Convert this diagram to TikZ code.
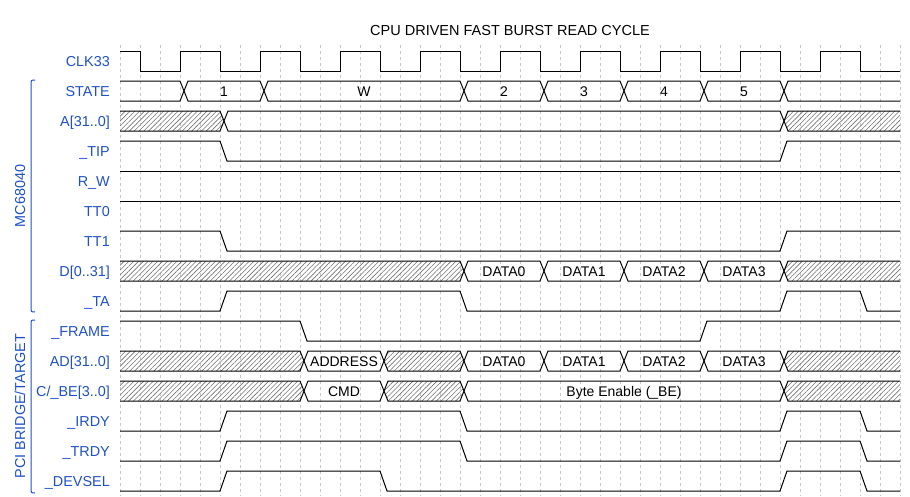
\documentclass[tikz,border=0pt]{standalone}
\usepackage{fontspec}
\setmainfont{Liberation Sans}
\usetikzlibrary{patterns.meta}
\definecolor{lblue}{HTML}{1F50C8}
\newcommand\bfirst[5]{%
  \path[#3] (120,#1-10) -- (#2,#1-10) -- (#2+4,#1) -- (#2,#1+10) -- (120,#1+10) -- cycle;
  \draw[sig] (120,#1-10) -- (#2,#1-10) -- (#2+4,#1) -- (#2,#1+10) -- (120,#1+10);
  \node[dtxt] (#5) at ({(120+#2)/2+2},#1+5) {#4};}
\newcommand\bmid[6]{%
  \path[#4] (#2+4,#1) -- (#2+8,#1-10) -- (#3,#1-10) -- (#3+4,#1) -- (#3,#1+10) -- (#2+8,#1+10) -- cycle;
  \draw[sig] (#2+4,#1) -- (#2+8,#1-10) -- (#3,#1-10) -- (#3+4,#1) -- (#3,#1+10) -- (#2+8,#1+10) -- cycle;
  \node[dtxt] (#6) at ({(#2+#3)/2+4},#1+5) {#5};}
\newcommand\blast[3]{%
  \path[#3] (900,#1-10) -- (#2+8,#1-10) -- (#2+4,#1) -- (#2+8,#1+10) -- (900,#1+10) -- cycle;
  \draw[sig] (900,#1-10) -- (#2+8,#1-10) -- (#2+4,#1) -- (#2+8,#1+10) -- (900,#1+10);}
\begin{document}
\begin{tikzpicture}[x=1pt,y=-1pt,
  sig/.style={line width=1pt, black, line join=miter},
  gridl/.style={line width=0.6pt, draw=black!22, dash pattern=on 3pt off 3pt},
  hatch/.style={pattern={Lines[angle=45,distance=3.4pt,line width=0.6pt]}, pattern color=black!55},
  plain/.style={},
  lbl/.style={text=lblue, font=\fontsize{14.4}{16}\selectfont, anchor=base east, inner sep=0pt},
  dtxt/.style={font=\fontsize{14}{16}\selectfont, anchor=base, inner sep=0pt},
  grp/.style={text=lblue, font=\fontsize{14.4}{16}\selectfont, anchor=base, inner sep=0pt, rotate=90},
  brace/.style={draw=lblue, line width=1pt},
  ]
\useasboundingbox (0,0) rectangle (910,496);
% grid
\foreach \x in {120,140,...,900} \draw[gridl] (\x,45) -- (\x,496);
% title
\node[font=\fontsize{14.5}{16}\selectfont, anchor=base, inner sep=0pt] (title) at (510,35) {CPU DRIVEN FAST BURST READ CYCLE};
% labels
\node[lbl] (lclk) at (110,66.5) {CLK33};
\node[lbl] (lstate) at (110,96.5) {STATE};
\node[lbl] (la) at (110,126.5) {A[31..0]};
\node[lbl] (ltip) at (110,156.5) {\_TIP};
\node[lbl] (lrw) at (110,186.5) {R\_W};
\node[lbl] (ltt0) at (110,216.5) {TT0};
\node[lbl] (ltt1) at (110,246.5) {TT1};
\node[lbl] (ld) at (110,276.5) {D[0..31]};
\node[lbl] (lta) at (110,306.5) {\_TA};
\node[lbl] (lframe) at (110,336.5) {\_FRAME};
\node[lbl] (lad) at (110,366.5) {AD[31..0]};
\node[lbl] (lcbe) at (110,396.5) {C/\_BE[3..0]};
\node[lbl] (lirdy) at (110,426.5) {\_IRDY};
\node[lbl] (ltrdy) at (110,456.5) {\_TRDY};
\node[lbl] (ldevsel) at (110,486.5) {\_DEVSEL};
% group braces
\draw[brace] (35,80) .. controls (31,80) .. (31,85) -- (31,307) .. controls (31,312) .. (35,312);
\node[grp] (gmc) at (25,196) {MC68040};
\draw[brace] (35,320) .. controls (31,320) .. (31,325) -- (31,488) .. controls (31,493) .. (35,493);
\node[grp] (gpci) at (25,406) {PCI BRIDGE/TARGET};
% CLK33
\draw[sig] (120,51) -- (140,51)
  \foreach \k in {0,...,8} { -- ({140+80*\k},71) -- ({180+80*\k},71) -- ({180+80*\k},51) -- ({220+80*\k},51) -- ({220+80*\k},71)}
  -- (900,71);
% STATE
\bfirst{91}{180}{plain}{}{s0}
\bmid{91}{180}{260}{plain}{1}{s1}
\bmid{91}{260}{460}{plain}{W}{sw}
\bmid{91}{460}{540}{plain}{2}{s2}
\bmid{91}{540}{620}{plain}{3}{s3}
\bmid{91}{620}{700}{plain}{4}{s4}
\bmid{91}{700}{780}{plain}{5}{s5}
\blast{91}{780}{plain}
% A
\bfirst{121}{220}{hatch}{}{a0}
\bmid{121}{220}{780}{plain}{}{a1}
\blast{121}{780}{hatch}
% _TIP
\draw[sig] (120,141) -- (220,141) -- (227,161) -- (780,161) -- (787,141) -- (900,141);
% R_W, TT0
\draw[sig] (120,171) -- (900,171);
\draw[sig] (120,201) -- (900,201);
% TT1
\draw[sig] (120,231) -- (220,231) -- (227,251) -- (780,251) -- (787,231) -- (900,231);
% D
\bfirst{271}{460}{hatch}{}{d0}
\bmid{271}{460}{540}{plain}{DATA0}{d1}
\bmid{271}{540}{620}{plain}{DATA1}{d2}
\bmid{271}{620}{700}{plain}{DATA2}{d3}
\bmid{271}{700}{780}{plain}{DATA3}{d4}
\blast{271}{780}{hatch}
% _TA
\draw[sig] (120,311) -- (220,311) -- (227,291) -- (460,291) -- (467,311) -- (780,311) -- (787,291) -- (860,291) -- (867,311) -- (900,311);
% _FRAME
\draw[sig] (120,321) -- (300,321) -- (307,341) -- (700,341) -- (707,321) -- (900,321);
% AD
\bfirst{361}{300}{hatch}{}{ad0}
\bmid{361}{300}{380}{plain}{ADDRESS}{ad1}
\bmid{361}{380}{460}{hatch}{}{ad2}
\bmid{361}{460}{540}{plain}{DATA0}{ad3}
\bmid{361}{540}{620}{plain}{DATA1}{ad4}
\bmid{361}{620}{700}{plain}{DATA2}{ad5}
\bmid{361}{700}{780}{plain}{DATA3}{ad6}
\blast{361}{780}{hatch}
% C/_BE
\bfirst{391}{300}{hatch}{}{c0}
\bmid{391}{300}{380}{plain}{CMD}{c1}
\bmid{391}{380}{460}{hatch}{}{c2}
\bmid{391}{460}{780}{plain}{Byte Enable (\_BE)}{c3}
\blast{391}{780}{hatch}
% _IRDY
\draw[sig] (120,431) -- (220,431) -- (227,411) -- (460,411) -- (467,431) -- (780,431) -- (787,411) -- (860,411) -- (867,431) -- (900,431);
% _TRDY
\draw[sig] (120,461) -- (220,461) -- (227,441) -- (460,441) -- (467,461) -- (780,461) -- (787,441) -- (860,441) -- (867,461) -- (900,461);
% _DEVSEL
\draw[sig] (120,491) -- (220,491) -- (227,471) -- (380,471) -- (387,491) -- (780,491) -- (787,471) -- (860,471) -- (867,491) -- (900,491);
\end{tikzpicture}
\end{document}
